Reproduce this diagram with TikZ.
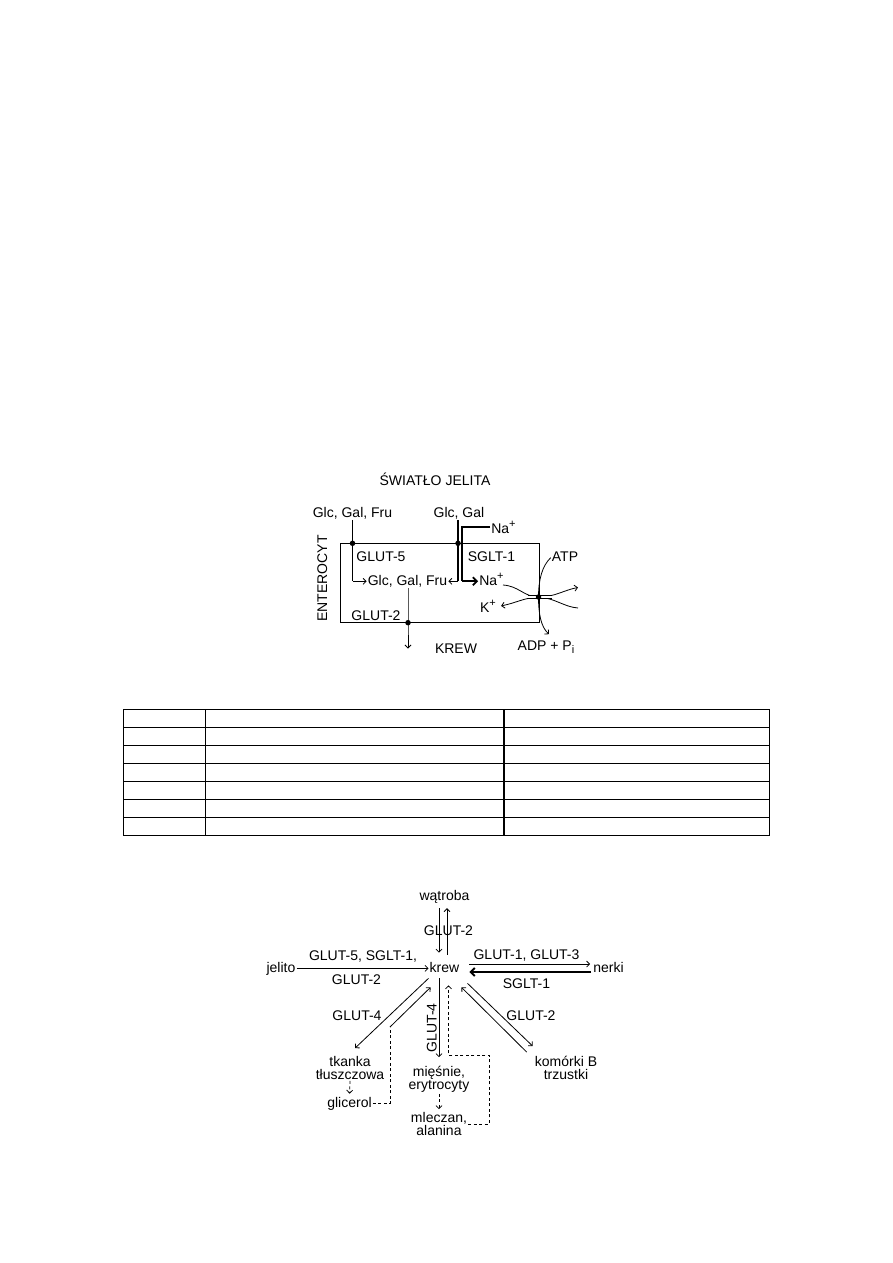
\documentclass[tikz,border=0pt]{standalone}
\usepackage{fontspec}
\setmainfont{Liberation Sans}
\usepackage{tikz}
\usetikzlibrary{arrows.meta,calc}
\newcommand{\upidx}[1]{\raisebox{0.42em}{\fontsize{11}{11}\selectfont #1}}
\newcommand{\lowidx}[1]{\raisebox{-0.22em}{\fontsize{11}{11}\selectfont #1}}

\begin{document}
\begin{tikzpicture}[x=1pt,y=-1pt,
  lbl/.style={inner sep=1pt,font=\fontsize{14}{13}\selectfont,align=center},
  lblb/.style={lbl,anchor=base},
  dotn/.style={circle,fill=black,inner sep=0pt,minimum size=5.5pt},
  thinline/.style={line width=0.8pt},
  thkline/.style={line width=1.8pt},
  arrow/.style={-{Straight Barb[length=3pt,width=6pt]},line width=0.8pt},
  thkarrow/.style={-{Straight Barb[length=4pt,width=8pt]},line width=1.8pt},
  dasharrow/.style={arrow,dash pattern=on 3pt off 2.5pt},
  dashline/.style={thinline,dash pattern=on 3pt off 2.5pt},
  tabline/.style={line width=1.1pt}
]
\fill[white] (0,0) rectangle (893,1263);
\useasboundingbox (0,0) rectangle (893,1263);

\node[lblb] (lumen) at (435,485.5) {ŚWIATŁO JELITA};
\node[lblb] (gfIn) at (352.5,517) {Glc, Gal, Fru};
\node[lblb] (ggIn) at (459,517) {Glc, Gal};
\node[lblb] (naOut) at (503.5,533) {Na\upidx{+}};
\node[draw,thinline,minimum width=199.3pt,minimum height=79.4pt,inner sep=0pt] (cell) at (439.65,583) {};
\node[lblb] (glut5lbl) at (381,561) {GLUT-5};
\node[lblb] (sgltlbl) at (491.5,561) {SGLT-1};
\node[lblb] (gfCell) at (407.5,585.5) {Glc, Gal, Fru};
\node[lblb] (naIn) at (491.5,585.5) {Na\upidx{+}};
\node[lblb] (glut2lbl) at (376,620) {GLUT-2};
\node[lblb] (blood) at (456,653) {KREW};
\node[lblb,rotate=90] (entero) at (327,578.5) {ENTEROCYT};
\node[lblb] (atp) at (565,561.5) {ATP};
\node[lblb] (kin) at (488,612) {K\upidx{+}};
\node[lblb] (adp) at (546,650) {ADP + P\lowidx{i}};
\node[dotn] (glut5) at (352.5,543.3) {};
\node[dotn] (sglt) at (458,543.3) {};
\node[dotn] (glut2) at (408,622.7) {};
\coordinate (pumpC) at (538.5,597);
\coordinate (naBot) at ($(sglt |- gfCell.east)+(3.6,0)$);
\coordinate (naTop) at (naBot |- naOut.west);
\coordinate (bloodTip) at (408,648.5);

\draw[thkline] (gfIn.south) -- (glut5.center) -- (glut5 |- gfCell.west);
\draw[arrow] (glut5 |- gfCell.west) -- (gfCell.west);
\draw[thkline] (ggIn.south -| sglt) -- (sglt.center) -- (sglt |- gfCell.east);
\draw[arrow] (sglt |- gfCell.east) -- (gfCell.east);
\draw[thkline] (naTop -| naOut.west) -- (naTop) -- (naBot);
\draw[thkarrow] (naBot) -- (naBot -| naIn.west);
\draw[arrow] (gfCell.south -| glut2) -- (glut2.center) -- (bloodTip);
\draw[arrow] (503,585) .. controls (519,586) and (524,597) .. (pumpC) .. controls (555,597) and (564,590) .. (578,587.5);
\draw[arrow] (578,608) .. controls (564,607) and (555,598) .. (pumpC) .. controls (523,598) and (516,603) .. ($(kin.east)+(4,0)$);
\draw[arrow] ($(atp.west)+(0,1)$) .. controls (542,566) and (538.5,580) .. (pumpC) .. controls (538.5,614) and (541,627) .. ($(adp.north)+(3,-5)$);
\draw[line width=1pt,double,double distance=1.5pt] ($(pumpC)+(-11,0)$) -- ($(pumpC)+(13,0)$);
\node[dotn] (pump) at (pumpC) {};

\draw[tabline] (123.3,709.3) rectangle (769.3,835.3);
\foreach \k in {1,...,6}
  \draw[tabline] (123.3,{709.3+18*\k}) -- (769.3,{709.3+18*\k});
\draw[tabline] (205.7,709.3) -- (205.7,835.3);
\draw[tabline] (504,709.3) -- (504,835.3);

\node[lblb] (liver) at (444.5,900) {wątroba};
\node[lblb] (blood2) at (444.5,972) {krew};
\node[lblb] (gut) at (281,972) {jelito};
\node[lblb] (kidney) at (608.5,972) {nerki};
\node[lblb] (liverlbl) at (448.5,935) {GLUT-2};
\node[lblb] (gutlbla) at (363,960) {GLUT-5, SGLT-1,};
\node[lblb] (gutlblb) at (356.5,984) {GLUT-2};
\node[lblb] (kidlbla) at (526.5,959) {GLUT-1, GLUT-3};
\node[lblb] (kidlblb) at (526.5,988) {SGLT-1};
\node[lbl] (adipose) at (350,1068) {tkanka\\tłuszczowa};
\node[lblb] (glycerol) at (349.5,1107) {glicerol};
\node[lblb] (adilbl) at (357,1020) {GLUT-4};
\node[lbl] (muscle) at (439,1079.5) {mięśnie,\\erytrocyty};
\node[lblb,rotate=90] (muslbl) at (436.7,1028) {GLUT-4};
\node[lbl] (lactate) at (439,1124) {mleczan,\\alanina};
\node[lbl] (beta) at (566,1068) {komórki B\\trzustki};
\node[lblb] (betalbl) at (531,1020) {GLUT-2};
\coordinate (glyBend) at (390,1027);
\coordinate (lacCorner) at (489,1055);

\draw[arrow] ($(liver.south)+(-5.5,4)$) -- ($(blood2.north)+(-5.5,-8)$);
\draw[arrow] ($(blood2.north)+(2.5,-6)$) -- ($(liver.south)+(2.5,4)$);
\draw[arrow] (gut.east) -- (gut.east -| blood2.west);
\draw[arrow] ($(blood2.east)+(9,-3)$) -- ($(kidney.west)+(-2,-3)$);
\draw[thkarrow] ($(kidney.west)+(-1,5)$) -- ($(blood2.east)+(9,5)$);
\draw[arrow] ($(blood2.south west)+(0,5)$) -- ($(adipose.north)+(5,-7)$);
\draw[dashline] (glycerol.east) -| (glyBend);
\draw[arrow] (glyBend) -- ($(blood2.south west)+(2,14)$);
\draw[dasharrow,shorten >=2pt] (adipose.south) -- (glycerol.north);
\draw[arrow] ($(blood2.south)+(-5.5,5)$) -- ($(muscle.north)+(0,-8)$);
\draw[dasharrow,shorten >=2pt] (muscle.south) -- (lactate.north);
\draw[dasharrow] (lactate.east) -| (lacCorner) -| ($(blood2.south)+(4,12)$);
\draw[arrow] ($(blood2.south east)+(7,10)$) -- ($(beta.north west)+(-1,-9)$);
\draw[arrow] ($(beta.north west)+(-7,-3)$) -- ($(blood2.south east)+(1,14)$);
\end{tikzpicture}
\end{document}
